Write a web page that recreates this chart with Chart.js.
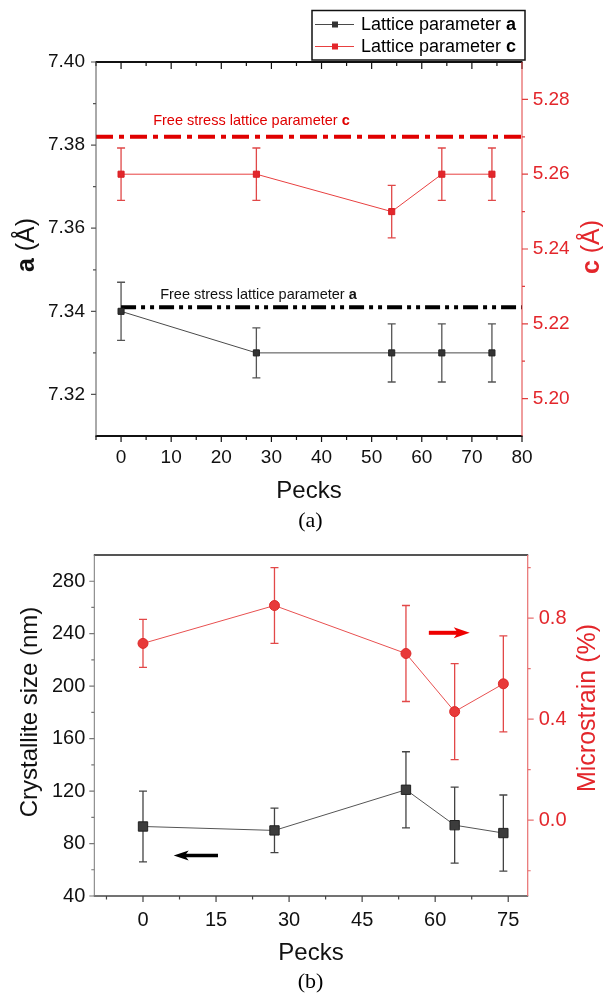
<!DOCTYPE html>
<html>
<head>
<meta charset="utf-8">
<title>Lattice parameters, crystallite size and microstrain vs pecks</title>
<script src="https://cdn.jsdelivr.net/npm/chart.js@4.4.1/dist/chart.umd.min.js"></script>
<style>
  html, body { margin: 0; padding: 0; background: #fff; }
  body { width: 603px; height: 995px; position: relative; overflow: hidden; }
  .panel { position: absolute; left: 0; width: 603px; }
  .caption {
    position: absolute; left: 9px; width: 603px; text-align: center;
    font-family: "Liberation Serif", "Times New Roman", serif;
    font-size: 22px; line-height: 22px; color: #000;
  }
</style>
</head>
<body>
<div class="panel" style="top:0;height:512px"><canvas id="latticeChart"></canvas></div>
<div class="caption" style="top:509px">(a)</div>
<div class="panel" style="top:532px;height:463px"><canvas id="strainChart"></canvas></div>
<div class="caption" style="top:970px">(b)</div>

<script>
// number of pecks for every sample
var pecks = [0, 27, 54, 64, 74];

// lattice parameters (Å) with their errors
var latticeA = [7.340, 7.330, 7.330, 7.330, 7.330];
var latticeAErr = [0.007, 0.006, 0.007, 0.007, 0.007];
var latticeC = [5.260, 5.260, 5.250, 5.260, 5.260];
var latticeCErr = [0.007, 0.007, 0.007, 0.007, 0.007];
var freeStressA = 7.341;
var freeStressC = 5.270;

// crystallite size (nm) and microstrain (%)
var crystalliteSize = [93, 90, 121, 94, 88];
var crystalliteErr = [27, 17, 29, 29, 29];
var microstrain = [0.70, 0.85, 0.66, 0.43, 0.54];
var microstrainErr = [0.095, 0.15, 0.19, 0.19, 0.19];

// ticks
var pecksTicksA = [0, 10, 20, 30, 40, 50, 60, 70, 80];
var pecksMinorA = [-5, 5, 15, 25, 35, 45, 55, 65, 75];
var aTicks = [7.32, 7.34, 7.36, 7.38, 7.40];
var aMinor = [7.33, 7.35, 7.37, 7.39];
var cTicks = [5.20, 5.22, 5.24, 5.26, 5.28];
var cMinor = [5.21, 5.23, 5.25, 5.27];
var pecksTicksB = [0, 15, 30, 45, 60, 75];
var pecksMinorB = [-7.5, 7.5, 22.5, 37.5, 52.5, 67.5];
var sizeTicks = [40, 80, 120, 160, 200, 240, 280];
var sizeMinor = [60, 100, 140, 180, 220, 260];
var strainTicks = [0.0, 0.4, 0.8];
var strainMinor = [-0.2, 0.2, 0.6, 1.0];

var fontFamily = "'Liberation Sans', Arial, sans-serif";
Chart.defaults.font.family = fontFamily;
Chart.defaults.animation = false;

var RED = '#e3262b';
var pts = function (xs, ys) { return xs.map(function (x, i) { return {x: x, y: ys[i]}; }); };
var fixedTicks = function (values) {
    return function (scale) { scale.ticks = values.map(function (v) { return {value: v}; }); };
};

// text made of normal and bold pieces, optionally rotated
function richText(ctx, parts, x, y, size, color, angle, align) {
    ctx.save();
    ctx.translate(x, y);
    if (angle) ctx.rotate(angle);
    ctx.fillStyle = color;
    ctx.textBaseline = 'middle';
    ctx.textAlign = 'left';
    var fonts = parts.map(function (p) { return (p.bold ? 'bold ' : '') + size + 'px ' + fontFamily; });
    var widths = parts.map(function (p, i) { ctx.font = fonts[i]; return ctx.measureText(p.text).width; });
    var total = widths.reduce(function (a, b) { return a + b; }, 0);
    var cx = align === 'center' ? -total / 2 : 0;
    parts.forEach(function (p, i) {
        ctx.font = fonts[i];
        ctx.fillText(p.text, cx, 0);
        cx += widths[i];
    });
    ctx.restore();
}

function drawSpine(ctx, chart, s) {
    var area = chart.chartArea;
    var scale = chart.scales[s.scale];
    var horiz = s.side === 'top' || s.side === 'bottom';
    var pos = area[s.side];
    ctx.save();
    ctx.strokeStyle = s.color;
    ctx.lineWidth = s.width;
    ctx.beginPath();
    if (horiz) {
        ctx.moveTo(area.left - 0.5, pos);
        ctx.lineTo(area.right + 0.5, pos);
    } else {
        ctx.moveTo(pos, area.top);
        ctx.lineTo(pos, area.bottom);
    }
    ctx.stroke();
    ctx.lineWidth = 1.2;
    ctx.beginPath();
    [[s.major || [], s.majorLen], [s.minor || [], s.minorLen]].forEach(function (t) {
        t[0].forEach(function (v) {
            var p = scale.getPixelForValue(v);
            if (horiz) { ctx.moveTo(p, pos); ctx.lineTo(p, pos + t[1]); }
            else { ctx.moveTo(pos, p); ctx.lineTo(pos + t[1], p); }
        });
    });
    ctx.stroke();
    ctx.restore();
}

function drawArrow(ctx, chart, a) {
    var xs = chart.scales.x, ys = chart.scales[a.axis];
    var x0 = xs.getPixelForValue(a.from), x1 = xs.getPixelForValue(a.to), y = ys.getPixelForValue(a.y);
    var dir = x1 > x0 ? 1 : -1;
    ctx.save();
    ctx.strokeStyle = a.color;
    ctx.fillStyle = a.color;
    ctx.lineWidth = a.shaft;
    ctx.beginPath();
    ctx.moveTo(x0, y);
    ctx.lineTo(x1 - dir * a.head * 0.7, y);
    ctx.stroke();
    ctx.beginPath();
    ctx.moveTo(x1, y);
    ctx.lineTo(x1 - dir * a.head, y - a.half);
    ctx.lineTo(x1 - dir * a.head * 0.75, y);
    ctx.lineTo(x1 - dir * a.head, y + a.half);
    ctx.closePath();
    ctx.fill();
    ctx.restore();
}

function framePlugin(cfg) {
    return {
        id: 'frame',
        beforeDatasetsDraw: function (chart) {
            var ctx = chart.ctx;
            var xs = chart.scales.x;
            chart.data.datasets.forEach(function (ds) {
                if (!ds.errors) return;
                var ys = chart.scales[ds.yAxisID];
                ctx.save();
                ctx.strokeStyle = ds.errorColor;
                ctx.lineWidth = 1.3;
                ctx.beginPath();
                ds.data.forEach(function (p, j) {
                    var x = xs.getPixelForValue(p.x);
                    var yTop = ys.getPixelForValue(p.y + ds.errors[j]);
                    var yBot = ys.getPixelForValue(p.y - ds.errors[j]);
                    ctx.moveTo(x, yTop); ctx.lineTo(x, yBot);
                    ctx.moveTo(x - 4, yTop); ctx.lineTo(x + 4, yTop);
                    ctx.moveTo(x - 4, yBot); ctx.lineTo(x + 4, yBot);
                });
                ctx.stroke();
                ctx.restore();
            });
        },
        afterDraw: function (chart) {
            var ctx = chart.ctx;
            cfg.spines.forEach(function (s) { drawSpine(ctx, chart, s); });
            (cfg.titles || []).forEach(function (t) {
                richText(ctx, t.parts, t.x, t.y, t.size || 24, t.color, -Math.PI / 2, 'center');
            });
            (cfg.notes || []).forEach(function (n) {
                var x = chart.scales.x.getPixelForValue(n.x);
                var y = chart.scales[n.axis].getPixelForValue(n.y);
                richText(ctx, n.parts, x, y, 14.5, n.color, 0, 'left');
            });
            (cfg.arrows || []).forEach(function (a) { drawArrow(ctx, chart, a); });
            if (cfg.legend) {
                var lg = cfg.legend;
                ctx.save();
                ctx.fillStyle = '#fff';
                ctx.fillRect(lg.box[0], lg.box[1], lg.box[2], lg.box[3]);
                ctx.strokeStyle = '#111';
                ctx.lineWidth = 1.5;
                ctx.strokeRect(lg.box[0], lg.box[1], lg.box[2], lg.box[3]);
                lg.rows.forEach(function (r) {
                    var ds = chart.data.datasets[r.dataset];
                    ctx.strokeStyle = ds.borderColor;
                    ctx.lineWidth = 1.2;
                    ctx.beginPath();
                    ctx.moveTo(lg.box[0] + 3, r.y);
                    ctx.lineTo(lg.box[0] + 42, r.y);
                    ctx.stroke();
                    ctx.fillStyle = ds.pointBackgroundColor;
                    ctx.fillRect(lg.box[0] + 20, r.y - 3, 6, 6);
                    richText(ctx, r.parts, lg.box[0] + 49, r.y + 1, 18, '#000', 0, 'left');
                });
                ctx.restore();
            }
        }
    };
}

function axisTicks(color, size, padding, fmt) {
    return {
        padding: padding, color: color, font: {size: size}, autoSkip: false, maxRotation: 0,
        callback: fmt
    };
}
var noGrid = {display: false, drawTicks: false};

// (a) lattice parameters a and c
new Chart(document.getElementById('latticeChart'), {
    type: 'scatter',
    data: {
        datasets: [{
            label: 'Lattice parameter a',
            data: pts(pecks, latticeA),
            errors: latticeAErr,
            errorColor: '#555',
            yAxisID: 'y',
            showLine: true,
            borderColor: '#4a4a4a',
            borderWidth: 1,
            pointStyle: 'rect',
            pointRadius: 4.3,
            pointBackgroundColor: '#333',
            pointBorderColor: '#222',
            pointBorderWidth: 1
        }, {
            label: 'Lattice parameter c',
            data: pts(pecks, latticeC),
            errors: latticeCErr,
            errorColor: '#e04848',
            yAxisID: 'y1',
            showLine: true,
            borderColor: '#e84040',
            borderWidth: 1,
            pointStyle: 'rect',
            pointRadius: 4.3,
            pointBackgroundColor: RED,
            pointBorderColor: '#d81f24',
            pointBorderWidth: 1
        }, {
            label: 'Free stress lattice parameter a',
            data: [{x: 0, y: freeStressA}, {x: 80, y: freeStressA}],
            yAxisID: 'y',
            showLine: true,
            borderColor: '#000',
            borderWidth: 4,
            borderDash: [15, 5, 4, 5, 4, 5],
            pointRadius: 0
        }, {
            label: 'Free stress lattice parameter c',
            data: [{x: -5, y: freeStressC}, {x: 80, y: freeStressC}],
            yAxisID: 'y1',
            showLine: true,
            borderColor: '#e00000',
            borderWidth: 4,
            borderDash: [17, 6, 5, 6],
            pointRadius: 0
        }]
    },
    options: {
        responsive: true,
        maintainAspectRatio: false,
        devicePixelRatio: 1,
        layout: {padding: {top: 62, right: 11, bottom: 6, left: 0}},
        plugins: {legend: {display: false}, tooltip: {enabled: false}},
        scales: {
            x: {
                type: 'linear', min: -5, max: 80,
                afterBuildTicks: fixedTicks(pecksTicksA),
                afterFit: function (s) { s.height = 70; },
                grid: noGrid, border: {display: false},
                ticks: axisTicks('#111', 19, 10, function (v) { return String(v); }),
                title: {display: true, text: 'Pecks', color: '#111', font: {size: 24}, padding: {top: 0, bottom: 0}}
            },
            y: {
                type: 'linear', position: 'left', min: 7.31, max: 7.40,
                afterBuildTicks: fixedTicks(aTicks),
                afterFit: function (s) { s.width = 96; },
                grid: noGrid, border: {display: false},
                ticks: axisTicks('#111', 19, 11, function (v) { return v.toFixed(2); })
            },
            y1: {
                type: 'linear', position: 'right', min: 5.19, max: 5.29,
                afterBuildTicks: fixedTicks(cTicks),
                afterFit: function (s) { s.width = 70; },
                grid: noGrid, border: {display: false},
                ticks: axisTicks(RED, 19, 10.7, function (v) { return v.toFixed(2); })
            }
        }
    },
    plugins: [framePlugin({
        spines: [
            {side: 'top', scale: 'x', color: '#111', width: 2, major: pecksTicksA, minor: pecksMinorA, majorLen: 7, minorLen: 4},
            {side: 'bottom', scale: 'x', color: '#111', width: 2, major: pecksTicksA, minor: pecksMinorA, majorLen: 6, minorLen: 4},
            {side: 'left', scale: 'y', color: '#555', width: 1, major: aTicks, minor: aMinor, majorLen: -5, minorLen: -3},
            {side: 'right', scale: 'y1', color: '#e03c3c', width: 1, major: cTicks, minor: cMinor, majorLen: 6, minorLen: 3}
        ],
        titles: [
            {parts: [{text: 'a', bold: true}, {text: ' (Å)'}], x: 27, y: 245, color: '#111', size: 25},
            {parts: [{text: 'c', bold: true}, {text: ' (Å)'}], x: 592, y: 247, color: RED, size: 25}
        ],
        notes: [
            {parts: [{text: 'Free stress lattice parameter '}, {text: 'c', bold: true}], x: 6.4, y: 5.2741, axis: 'y1', color: '#e00000'},
            {parts: [{text: 'Free stress lattice parameter '}, {text: 'a', bold: true}], x: 7.8, y: 7.3439, axis: 'y', color: '#111'}
        ],
        legend: {
            box: [312, 10.5, 213, 49.5],
            rows: [
                {dataset: 0, y: 24.5, parts: [{text: 'Lattice parameter '}, {text: 'a', bold: true}]},
                {dataset: 1, y: 46.5, parts: [{text: 'Lattice parameter '}, {text: 'c', bold: true}]}
            ]
        }
    })]
});

// (b) crystallite size and microstrain
new Chart(document.getElementById('strainChart'), {
    type: 'scatter',
    data: {
        datasets: [{
            label: 'Crystallite size',
            data: pts(pecks, crystalliteSize),
            errors: crystalliteErr,
            errorColor: '#444',
            yAxisID: 'y',
            showLine: true,
            borderColor: '#555',
            borderWidth: 1,
            pointStyle: 'rect',
            pointRadius: 6.6,
            pointBackgroundColor: '#3c3c3c',
            pointBorderColor: '#222',
            pointBorderWidth: 1
        }, {
            label: 'Microstrain',
            data: pts(pecks, microstrain),
            errors: microstrainErr,
            errorColor: '#e24848',
            yAxisID: 'y1',
            showLine: true,
            borderColor: '#e85050',
            borderWidth: 1,
            pointStyle: 'circle',
            pointRadius: 5,
            pointBackgroundColor: '#e83a3a',
            pointBorderColor: '#dc2a2a',
            pointBorderWidth: 1
        }]
    },
    options: {
        responsive: true,
        maintainAspectRatio: false,
        devicePixelRatio: 1,
        layout: {padding: {top: 13, right: 0, bottom: 27, left: 0}},
        plugins: {legend: {display: false}, tooltip: {enabled: false}},
        scales: {
            x: {
                type: 'linear', min: -10, max: 79,
                afterBuildTicks: fixedTicks(pecksTicksB),
                afterFit: function (s) { s.height = 72; },
                grid: noGrid, border: {display: false},
                ticks: axisTicks('#111', 20, 12.5, function (v) { return String(v); }),
                title: {display: true, text: 'Pecks', color: '#111', font: {size: 24}, padding: {top: 0, bottom: 0}}
            },
            y: {
                type: 'linear', position: 'left', min: 40, max: 300,
                afterBuildTicks: fixedTicks(sizeTicks),
                afterFit: function (s) { s.width = 94.3; },
                grid: noGrid, border: {display: false},
                ticks: axisTicks('#111', 20, 9, function (v) { return String(v); })
            },
            y1: {
                type: 'linear', position: 'right', min: -0.3, max: 1.05,
                afterBuildTicks: fixedTicks(strainTicks),
                afterFit: function (s) { s.width = 75.3; },
                grid: noGrid, border: {display: false},
                ticks: axisTicks(RED, 20, 11, function (v) { return v.toFixed(1); })
            }
        }
    },
    plugins: [framePlugin({
        spines: [
            {side: 'top', scale: 'x', color: '#555', width: 2, major: [], minor: [], majorLen: 0, minorLen: 0},
            {side: 'bottom', scale: 'x', color: '#444', width: 1.5, major: pecksTicksB, minor: pecksMinorB, majorLen: 6, minorLen: 3.5},
            {side: 'left', scale: 'y', color: '#777', width: 1, major: sizeTicks, minor: sizeMinor, majorLen: -5, minorLen: -3},
            {side: 'right', scale: 'y1', color: '#e87070', width: 1.2, major: strainTicks, minor: strainMinor, majorLen: 6, minorLen: 3}
        ],
        titles: [
            {parts: [{text: 'Crystallite size (nm)'}], x: 30, y: 180, color: '#111'},
            {parts: [{text: 'Microstrain (%)'}], x: 588, y: 176, color: RED, size: 25}
        ],
        arrows: [
            {from: 58.7, to: 67.1, y: 0.742, axis: 'y1', color: '#ee0000', shaft: 4, head: 16, half: 5.5},
            {from: 15.4, to: 6.3, y: 70.9, axis: 'y', color: '#000', shaft: 3.5, head: 15, half: 5}
        ]
    })]
});
</script>
</body>
</html>
